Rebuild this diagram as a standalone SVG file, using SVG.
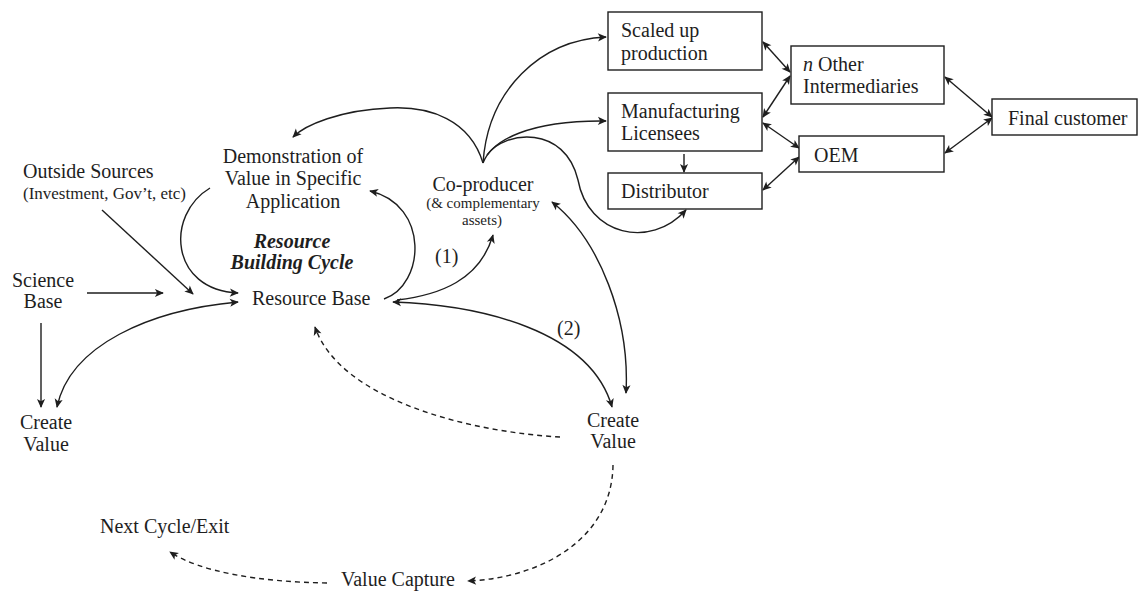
<svg xmlns="http://www.w3.org/2000/svg" width="1139" height="592" viewBox="0 0 1139 592">
  <style>
    text { font-family: "Liberation Serif", "Times New Roman", serif; fill: #1e1e1e; font-size: 20px; }
    .sm { font-size: 15px; }
    .md { font-size: 17px; }
    .c { text-anchor: middle; }
    .bi { font-weight: bold; font-style: italic; }
    .box { fill: #ffffff; stroke: #1e1e1e; stroke-width: 1.4; }
    .ln { fill: none; stroke: #1e1e1e; stroke-width: 1.4; }
    .one { marker-end: url(#ah); }
    .two { marker-start: url(#ah); marker-end: url(#ah); }
    .dash { stroke-dasharray: 5 4; }
  </style>
  <defs>
    <marker id="ah" viewBox="0 0 10 10" refX="9" refY="5" markerWidth="10" markerHeight="9" markerUnits="userSpaceOnUse" orient="auto-start-reverse">
      <path d="M0,0.5 L10,5 L0,9.5 L2.5,5 z" fill="#1e1e1e"/>
    </marker>
  </defs>
  <rect width="1139" height="592" fill="#ffffff"/>

  <g id="connectors">
    <!-- co-producer fan-out -->
    <path class="ln one" d="M483,163 C470,120 430,106 390,108 C340,110 305,125 293,137"/>
    <path class="ln one" d="M483,163 C488,90 540,40 606,37"/>
    <path class="ln one" d="M483,163 C492,140 530,120 606,121"/>
    <path class="ln one" d="M487,155 C505,130 565,125 578,180 C588,235 650,250 686,210"/>
    <!-- resource building cycle -->
    <path class="ln one" d="M384,299 C425,285 430,205 370,191"/>
    <path class="ln one" d="M210,188 C165,215 170,290 238,293"/>
    <path class="ln one" d="M397,300 C440,295 480,280 493,235"/>
    <path class="ln two" d="M393,302 C480,305 590,330 612,407"/>
    <path class="ln two" d="M552,202 C600,240 630,320 626,393"/>
    <!-- inputs to the resource base -->
    <path class="ln one" d="M102,210 L193,294"/>
    <path class="ln one" d="M87,293 L163,293"/>
    <path class="ln one" d="M41,323 L41,407"/>
    <path class="ln two" d="M238,302 C150,310 70,345 57,407"/>
    <!-- value flow (dashed) -->
    <path class="ln one dash" d="M560,437 C470,432 340,400 315,327"/>
    <path class="ln one dash" d="M613,465 C612,540 540,578 468,581"/>
    <path class="ln one dash" d="M327,583 C260,582 200,572 170,552"/>
    <!-- channel links -->
    <path class="ln two" d="M763,42 L790,72"/>
    <path class="ln two" d="M763,117 L790,76"/>
    <path class="ln two" d="M763,123 L799,148"/>
    <path class="ln two" d="M763,190 L799,157"/>
    <path class="ln two" d="M945,77 L992,117"/>
    <path class="ln two" d="M945,153 L992,118"/>
    <path class="ln one" d="M684,154 L684,172"/>
  </g>

  <g id="outside-sources">
    <text x="23" y="178">Outside Sources</text>
    <text class="md" x="23" y="199">(Investment, Gov’t, etc)</text>
  </g>
  <g id="science-base">
    <text class="c" x="43" y="287">Science</text>
    <text class="c" x="43" y="308">Base</text>
  </g>
  <g id="create-value-left">
    <text class="c" x="46" y="429">Create</text>
    <text class="c" x="46" y="451">Value</text>
  </g>
  <g id="demonstration">
    <text class="c" x="293" y="163">Demonstration of</text>
    <text class="c" x="293" y="185">Value in Specific</text>
    <text class="c" x="293" y="208">Application</text>
  </g>
  <g id="cycle-label">
    <text class="c bi" x="292" y="248">Resource</text>
    <text class="c bi" x="292" y="269">Building Cycle</text>
  </g>
  <g id="resource-base">
    <text x="252" y="305">Resource Base</text>
  </g>
  <g id="co-producer">
    <text class="c" x="483" y="191">Co-producer</text>
    <text class="c sm" x="483" y="208">(&amp; complementary</text>
    <text class="c sm" x="482" y="225">assets)</text>
  </g>
  <g id="path-labels">
    <text x="435" y="263">(1)</text>
    <text x="557" y="335">(2)</text>
  </g>
  <g id="create-value-right">
    <text class="c" x="613" y="427">Create</text>
    <text class="c" x="613" y="448">Value</text>
  </g>
  <g id="value-capture">
    <text x="341" y="586">Value Capture</text>
  </g>
  <g id="next-cycle">
    <text x="100" y="533">Next Cycle/Exit</text>
  </g>

  <g id="scaled-up">
    <rect class="box" x="608" y="12" width="154" height="58"/>
    <text x="621" y="37">Scaled up</text>
    <text x="621" y="60">production</text>
  </g>
  <g id="manufacturing">
    <rect class="box" x="608" y="93" width="154" height="58"/>
    <text x="621" y="118">Manufacturing</text>
    <text x="621" y="140">Licensees</text>
  </g>
  <g id="distributor">
    <rect class="box" x="608" y="173" width="154" height="36"/>
    <text x="621" y="198">Distributor</text>
  </g>
  <g id="other-intermediaries">
    <rect class="box" x="791" y="46" width="153" height="58"/>
    <text x="803" y="71"><tspan font-style="italic">n</tspan> Other</text>
    <text x="803" y="93">Intermediaries</text>
  </g>
  <g id="oem">
    <rect class="box" x="799" y="136" width="145" height="36"/>
    <text x="814" y="162">OEM</text>
  </g>
  <g id="final-customer">
    <rect class="box" x="992" y="99" width="145" height="36"/>
    <text x="1008" y="125">Final customer</text>
  </g>
</svg>
